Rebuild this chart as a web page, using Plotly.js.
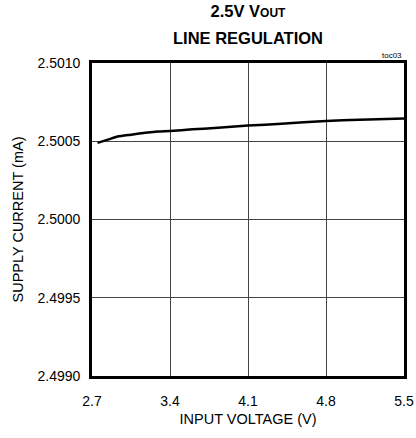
<!DOCTYPE html>
<html>
<head>
<meta charset="utf-8">
<script src="https://cdn.plot.ly/plotly-3.0.1.min.js"></script>
<style>html,body{margin:0;padding:0;background:#fff;}#chart{width:416px;height:438px;}</style>
</head>
<body>
<div id="chart"></div>
<script>
const inputVoltage = [2.75, 2.85, 2.93, 3.05, 3.2, 3.29, 3.4, 3.6, 3.8, 4.1, 4.4, 4.8, 5.1, 5.5];
const supplyCurrent = [2.50049, 2.500512, 2.50053, 2.500542, 2.500556, 2.500562, 2.500566, 2.500576, 2.500585, 2.5006, 2.500612, 2.50063, 2.500638, 2.500645];
const xTicks = [2.7, 3.4, 4.1, 4.8, 5.5];
const yTicks = [2.4990, 2.4995, 2.5000, 2.5005, 2.5010];
const yTickText = ["2.4990", "2.4995", "2.5000", "2.5005", "2.5010"];

const FONT = "'Liberation Sans', Arial, sans-serif";

const data = [{
  x: inputVoltage,
  y: supplyCurrent,
  type: 'scatter',
  mode: 'lines',
  line: {color: '#000', width: 2.5, shape: 'spline', smoothing: 0.6},
  hoverinfo: 'none'
}];

const layout = {
  width: 416, height: 438,
  margin: {l: 92, r: 12, t: 63, b: 62},
  paper_bgcolor: '#fff', plot_bgcolor: '#fff',
  showlegend: false,
  font: {family: FONT, size: 14, color: '#000'},
  title: {
    text: "<b>2.5V V<span style='font-size:12px'>OUT</span></b>",
    font: {family: FONT, size: 16.5, color: '#000'},
    xref: 'paper', x: 0.5, xanchor: 'center',
    yref: 'paper', y: 1, yanchor: 'bottom',
    pad: {b: 46}
  },
  xaxis: {
    range: [2.7, 5.5],
    tickvals: xTicks,
    ticktext: xTicks.map(v => v.toFixed(1)),
    showgrid: true, gridcolor: '#444', gridwidth: 1,
    zeroline: false,
    showline: true, linecolor: '#000', linewidth: 2.8, mirror: true,
    ticks: '', ticklen: 0,
    ticklabelstandoff: 10,
    tickfont: {family: FONT, size: 14, color: '#000'},
    title: {text: 'INPUT VOLTAGE (V)', font: {family: FONT, size: 14.5, color: '#000'}, standoff: 7},
    fixedrange: true
  },
  yaxis: {
    range: [2.4990, 2.5010],
    tickvals: yTicks,
    ticktext: yTickText,
    showgrid: true, gridcolor: '#444', gridwidth: 1,
    zeroline: false,
    showline: true, linecolor: '#000', linewidth: 2.8, mirror: true,
    ticks: '', ticklen: 0,
    ticklabelstandoff: 6,
    tickfont: {family: FONT, size: 14, color: '#000'},
    title: {text: 'SUPPLY CURRENT (mA)', font: {family: FONT, size: 14.5, color: '#000'}, standoff: 11},
    fixedrange: true
  },
  annotations: [{
    text: '<b>LINE REGULATION</b>', xref: 'paper', yref: 'paper', x: 0.5, y: 1,
    xanchor: 'center', yanchor: 'middle', yshift: 25, showarrow: false,
    font: {family: FONT, size: 16.5, color: '#000'}
  }, {
    text: 'toc03', xref: 'paper', yref: 'paper', x: 1, y: 1,
    xanchor: 'right', yanchor: 'bottom', yshift: 1, showarrow: false,
    font: {family: FONT, size: 8, color: '#000'}
  }]
};

Plotly.newPlot('chart', data, layout, {displayModeBar: false, staticPlot: true});
</script>
</body>
</html>
